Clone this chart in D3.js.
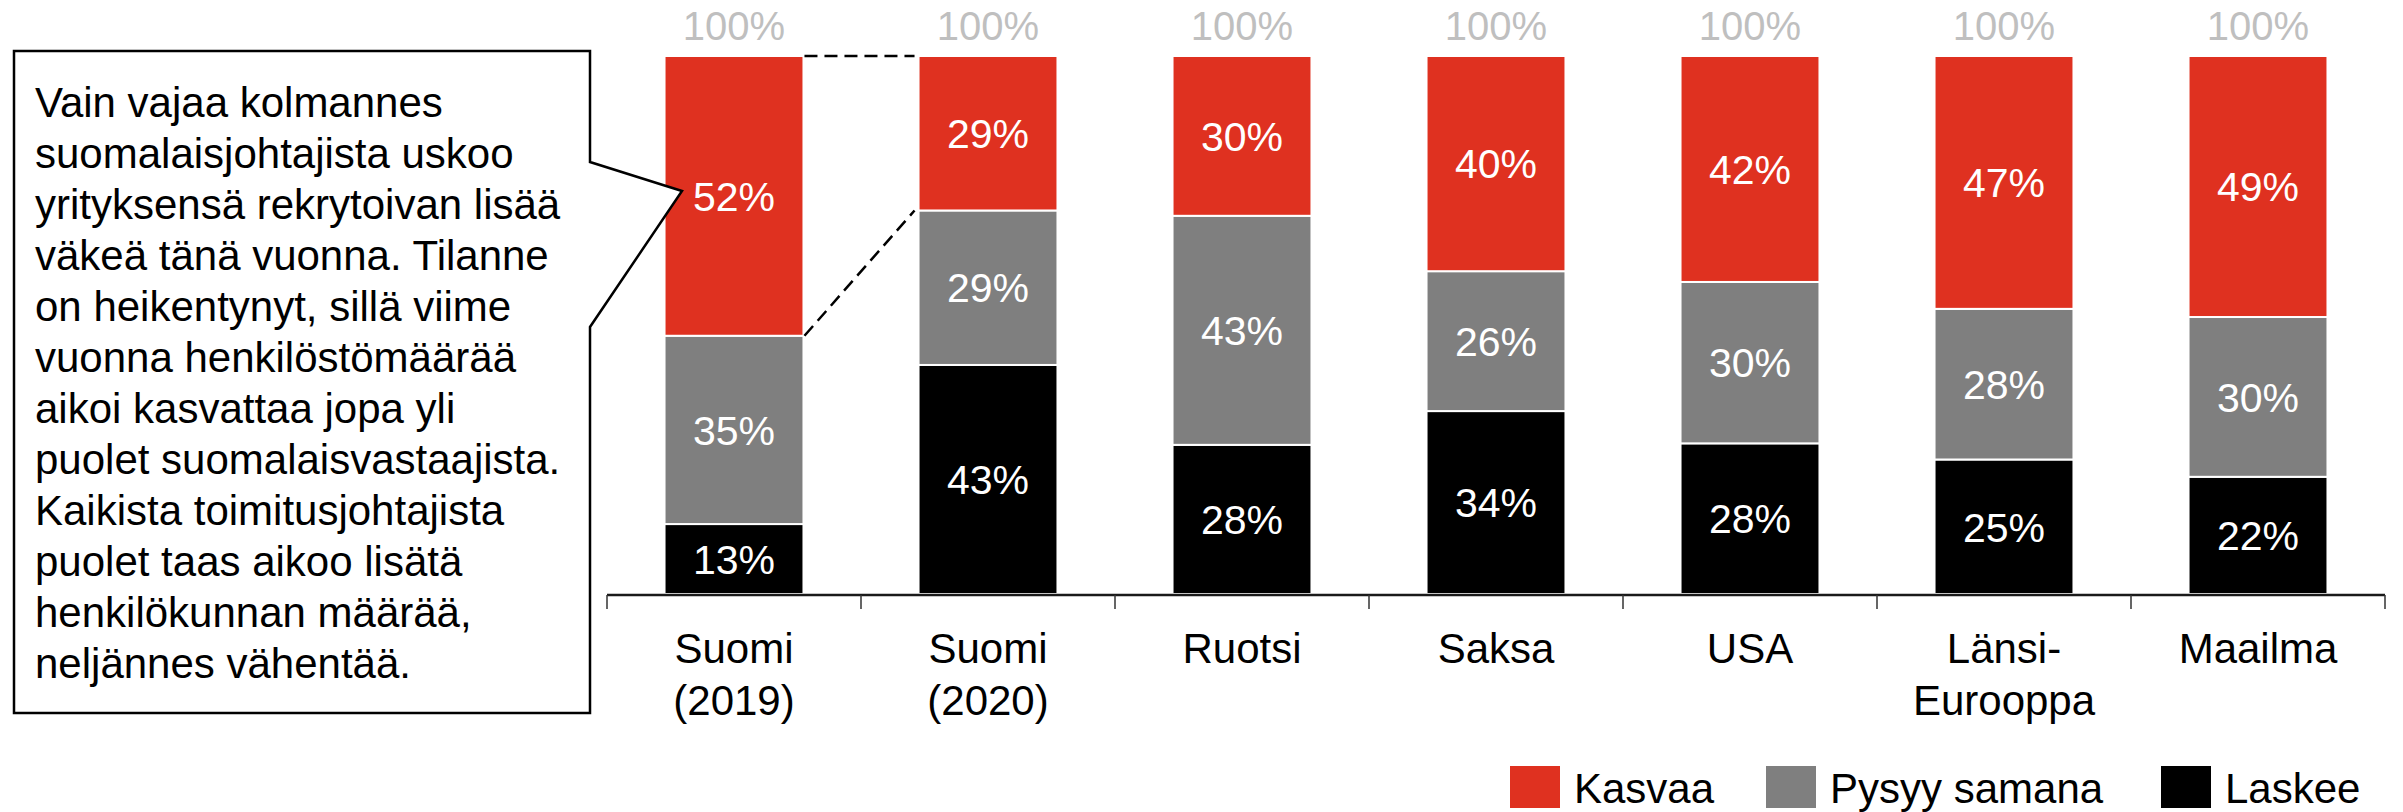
<!DOCTYPE html>
<html>
<head>
<meta charset="utf-8">
<script src="https://cdn.jsdelivr.net/npm/d3@7"></script>
<style>
  html, body { margin: 0; padding: 0; background: #fff; }
  svg { display: block; font-family: "Liberation Sans", Arial, sans-serif; }
</style>
</head>
<body>
<svg id="chart" width="2403" height="812"></svg>
<script>
// ---- data ----
const categories = ["Suomi (2019)", "Suomi (2020)", "Ruotsi", "Saksa", "USA", "Länsi-Eurooppa", "Maailma"];
const categoryLines = [["Suomi", "(2019)"], ["Suomi", "(2020)"], ["Ruotsi"], ["Saksa"], ["USA"], ["Länsi-", "Eurooppa"], ["Maailma"]];
const kasvaa = [52, 29, 30, 40, 42, 47, 49];
const pysyySamana = [35, 29, 43, 26, 30, 28, 30];
const laskee = [13, 43, 28, 34, 28, 25, 22];
const totalLabel = "100%";
const seriesNames = ["Laskee", "Pysyy samana", "Kasvaa"];
const legendOrder = ["Kasvaa", "Pysyy samana", "Laskee"];
const calloutLines = [
  "Vain vajaa kolmannes",
  "suomalaisjohtajista uskoo",
  "yrityksensä rekrytoivan lisää",
  "väkeä tänä vuonna. Tilanne",
  "on heikentynyt, sillä viime",
  "vuonna henkilöstömäärää",
  "aikoi kasvattaa jopa yli",
  "puolet suomalaisvastaajista.",
  "Kaikista toimitusjohtajista",
  "puolet taas aikoo lisätä",
  "henkilökunnan määrää,",
  "neljännes vähentää."
];

// ---- styles ----
const colors = { "Kasvaa": "#df3120", "Pysyy samana": "#7f7f7f", "Laskee": "#000000" };
const FS = 41;

const rows = categories.map((c, i) => ({
  cat: c,
  "Kasvaa": kasvaa[i],
  "Pysyy samana": pysyySamana[i],
  "Laskee": laskee[i]
}));

const svg = d3.select("#chart");

const x = d3.scaleBand().domain(categories).range([607, 2385]).paddingInner(0.453).paddingOuter(0.2265);
const y = d3.scaleLinear().domain([0, 1]).range([594, 56]);

const stack = d3.stack().keys(seriesNames).offset(d3.stackOffsetExpand);
const series = stack(rows);

// bars
const g = svg.append("g");
series.forEach(s => {
  const key = s.key;
  g.selectAll(null).data(s).enter().append("rect")
    .attr("x", d => x(d.data.cat))
    .attr("width", x.bandwidth())
    .attr("y", d => y(d[1]))
    .attr("height", d => y(d[0]) - y(d[1]))
    .attr("fill", colors[key])
    .attr("stroke", "#fff")
    .attr("stroke-width", 2);
  g.selectAll(null).data(s).enter().append("text")
    .attr("x", d => x(d.data.cat) + x.bandwidth() / 2)
    .attr("y", d => (y(d[0]) + y(d[1])) / 2)
    .attr("dy", "0.36em")
    .attr("text-anchor", "middle")
    .attr("font-size", FS)
    .attr("fill", "#fff")
    .text(d => d.data[key] + "%");
});

// 100% labels
svg.selectAll(null).data(categories).enter().append("text")
  .attr("x", d => x(d) + x.bandwidth() / 2)
  .attr("y", 40)
  .attr("text-anchor", "middle")
  .attr("font-size", 40)
  .attr("fill", "#bfbfbf")
  .text(totalLabel);

// axis
const [r0, r1] = x.range();
svg.append("line").attr("x1", r0).attr("x2", r1).attr("y1", y(0) + 1).attr("y2", y(0) + 1)
  .attr("stroke", "#1a1a1a").attr("stroke-width", 2.5);
const boundaries = categories.map(c => x(c) - x.step() * x.paddingInner() / 2);
boundaries.push(r1);
boundaries[0] = r0;
svg.selectAll(null).data(boundaries).enter().append("line")
  .attr("x1", d => d).attr("x2", d => d)
  .attr("y1", y(0) + 1).attr("y2", y(0) + 15)
  .attr("stroke", "#333").attr("stroke-width", 1.5);

// category labels
categories.forEach((c, i) => {
  const t = svg.append("text")
    .attr("x", x(c) + x.bandwidth() / 2)
    .attr("y", 663)
    .attr("text-anchor", "middle")
    .attr("font-size", 42)
    .attr("fill", "#000");
  categoryLines[i].forEach((ln, j) => {
    t.append("tspan").attr("x", x(c) + x.bandwidth() / 2).attr("dy", j === 0 ? 0 : 52).text(ln);
  });
});

// dashed connector lines between Suomi 2019 and Suomi 2020 "Kasvaa"
const topS = series.find(s => s.key === "Kasvaa");
const b0 = topS[0], b1 = topS[1];
const xr0 = x(categories[0]) + x.bandwidth(), xl1 = x(categories[1]);
[[b0[1], b1[1]], [b0[0], b1[0]]].forEach(([v0, v1]) => {
  svg.append("line")
    .attr("x1", xr0 + 1).attr("y1", y(v0))
    .attr("x2", xl1 - 4).attr("y2", y(v1))
    .attr("stroke", "#000").attr("stroke-width", 2.5)
    .attr("stroke-dasharray", "13,7");
});

// callout box
const tipX = 682, tipY = 191;
const pts = [[14, 51], [590, 51], [590, 162], [tipX, tipY], [590, 327], [590, 713], [14, 713]];
svg.append("path")
  .attr("d", d3.line()(pts) + "Z")
  .attr("fill", "#fff")
  .attr("stroke", "#000")
  .attr("stroke-width", 2.5);
const ct = svg.append("text").attr("x", 35).attr("y", 117).attr("font-size", 42).attr("fill", "#000");
calloutLines.forEach((ln, i) => {
  ct.append("tspan").attr("x", 35).attr("dy", i === 0 ? 0 : 51).text(ln);
});

// legend
const legendX = [1510, 1766, 2161];
const lg = svg.append("g");
legendOrder.forEach((k, i) => {
  lg.append("rect").attr("x", legendX[i]).attr("y", 766).attr("width", 50).attr("height", 42)
    .attr("fill", colors[k]);
  lg.append("text").attr("x", legendX[i] + 64).attr("y", 803)
    .attr("font-size", 42).attr("fill", "#000").text(k);
});
</script>
</body>
</html>
